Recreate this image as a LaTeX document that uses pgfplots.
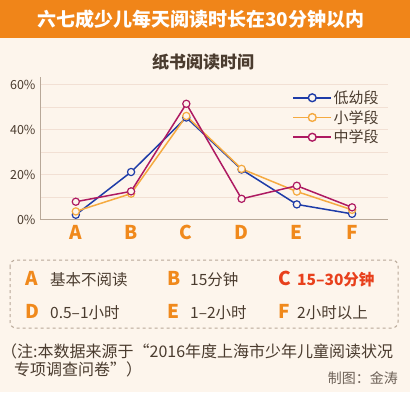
\documentclass[border=0pt]{standalone}
\usepackage{pgfplots}
\pgfplotsset{compat=1.18}
\usepackage{fontspec}
\setmainfont{Noto Sans CJK SC}
\definecolor{bg}{HTML}{FDF5EC}
\definecolor{bar}{HTML}{F08519}
\definecolor{cblue}{HTML}{1E3CA8}
\definecolor{corange}{HTML}{F5AA40}
\definecolor{cpurple}{HTML}{AE1A62}
\definecolor{txt}{HTML}{4A3B2E}
\definecolor{lett}{HTML}{F0891C}
\definecolor{cred}{HTML}{E8401C}
\definecolor{gridc}{HTML}{F2E0D4}
\definecolor{axc}{HTML}{B8A898}
\begin{document}
\begin{tikzpicture}[x=1pt,y=1pt]
\useasboundingbox (0,0) rectangle (410,392);
\fill[bg] (0,0) rectangle (410,392);
\fill[bar] (0,354) rectangle (410,392);
\node[white,font=\fontsize{19}{19}\selectfont\bfseries] at (201,373) {六七成少儿每天阅读时长在30分钟以内};
\node[txt,font=\fontsize{17}{17}\selectfont\bfseries] at (203,330) {纸书阅读时间};
\begin{axis}[
  at={(41pt,172.5pt)}, anchor=south west, scale only axis,
  width=347pt, height=142.5pt,
  xmin=-0.63, xmax=5.65, ymin=0, ymax=63.3,
  axis x line*=bottom, axis y line*=left,
  axis line style={axc, line width=1pt},
  xtick={0,1,2,3,4,5}, xticklabels={A,B,C,D,E,F},
  ytick={0,20,40,60}, minor ytick={10,30,50},
  ymajorgrids, yminorgrids,
  major grid style={gridc, line width=0.8pt},
  minor grid style={gridc, line width=0.8pt},
  major tick length=0pt, minor tick length=0pt,
  /pgf/number format/assume math mode=true,
  yticklabel={\pgfmathprintnumber{\tick}\%},
  yticklabel style={txt, font=\fontsize{12.5}{12.5}\selectfont, xshift=-2pt},
  xticklabel style={lett, font=\fontsize{19}{19}\selectfont\bfseries, yshift=-2pt},
  legend style={at={(0.715,0.93)}, anchor=north west, draw=none, fill=none,
    font=\fontsize{15}{15}\selectfont, text=txt, row sep=2.5pt,
    nodes={inner sep=1.5pt}},
  legend cell align=left,
  legend image code/.code={\draw[#1,line width=1.9pt,mark size=3.9pt,mark options={fill=bg,line width=1.4pt},mark repeat=2,mark phase=2] plot coordinates {(0pt,0pt)(19pt,0pt)(38pt,0pt)};},
]
\addplot[cblue,line width=1.5pt, mark=*, mark size=3.6pt, mark options={fill=bg, line width=1.2pt}] coordinates {(0,2.1) (1,21.1) (2,45.3) (3,22.2) (4,6.7) (5,2.5)};
\addlegendentry{低幼段}
\addplot[corange,line width=1.5pt, mark=*, mark size=3.6pt, mark options={fill=bg, line width=1.2pt}] coordinates {(0,3.6) (1,11.5) (2,46.0) (3,22.5) (4,12.4) (5,4.3)};
\addlegendentry{小学段}
\addplot[cpurple,line width=1.5pt, mark=*, mark size=3.6pt, mark options={fill=bg, line width=1.2pt}] coordinates {(0,7.9) (1,12.5) (2,51.4) (3,9.2) (4,15.0) (5,5.4)};
\addlegendentry{中学段}
\end{axis}
\draw[axc, dashed, line width=1pt, rounded corners=6pt] (10,132) rectangle (398,64);
\begin{scope}[every node/.style={anchor=base west, inner sep=0pt}]
\def\rA{107}\def\rB{74}
\node[lett,font=\fontsize{19}{19}\selectfont\bfseries] at (25,\rA) {A};
\node[txt,font=\fontsize{15.5}{15.5}\selectfont] at (50,\rA) {基本不阅读};
\node[lett,font=\fontsize{19}{19}\selectfont\bfseries] at (167,\rA) {B};
\node[txt,font=\fontsize{15.5}{15.5}\selectfont] at (190,\rA) {15分钟};
\node[cred,font=\fontsize{19}{19}\selectfont\bfseries] at (278,\rA) {C};
\node[cred,font=\fontsize{15.5}{15.5}\selectfont\bfseries] at (297,\rA) {15–30分钟};
\node[lett,font=\fontsize{19}{19}\selectfont\bfseries] at (25,\rB) {D};
\node[txt,font=\fontsize{15.5}{15.5}\selectfont] at (50,\rB) {0.5–1小时};
\node[lett,font=\fontsize{19}{19}\selectfont\bfseries] at (167,\rB) {E};
\node[txt,font=\fontsize{15.5}{15.5}\selectfont] at (190,\rB) {1–2小时};
\node[lett,font=\fontsize{19}{19}\selectfont\bfseries] at (278,\rB) {F};
\node[txt,font=\fontsize{15.5}{15.5}\selectfont] at (297,\rB) {2小时以上};
\node[txt,font=\fontsize{16}{16}\selectfont] at (1,35) {（注:本数据来源于“2016年度上海市少年儿童阅读状况};
\node[txt,font=\fontsize{16}{16}\selectfont] at (14,17) {专项调查问卷”）};
\node[txt!80,font=\fontsize{14}{14}\selectfont,anchor=base east] at (398,9) {制图：金涛};
\end{scope}
\end{tikzpicture}
\end{document}
